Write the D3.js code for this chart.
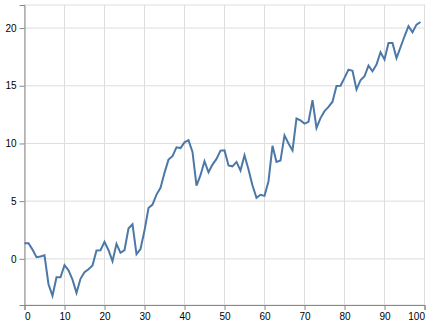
<!DOCTYPE html>
<html>
<head>
<meta charset="utf-8">
<script src="https://cdn.jsdelivr.net/npm/d3@7"></script>
<style>
  body { margin: 0; background: #fff; }
  #chart text { font-family: "Liberation Sans", Arial, sans-serif; font-size: 10px; fill: #000; }
</style>
</head>
<body>
<div id="chart"></div>
<script>
// series values, x = 0..99
const yValues = [
  1.35, 1.35, 0.8, 0.14, 0.2, 0.31, -2.2, -3.2, -1.6, -1.6,
  -0.55, -1.0, -1.8, -2.95, -1.73, -1.16, -0.9, -0.58, 0.72, 0.75,
  1.47, 0.75, -0.2, 1.3, 0.52, 0.75, 2.63, 3.0, 0.4, 0.85,
  2.45, 4.4, 4.7, 5.57, 6.15, 7.45, 8.6, 8.9, 9.67, 9.6,
  10.1, 10.28, 9.27, 6.35, 7.25, 8.46, 7.5, 8.17, 8.66, 9.38,
  9.4, 8.1, 8.02, 8.4, 7.65, 8.98, 7.74, 6.35, 5.29, 5.55,
  5.46, 6.73, 9.8, 8.4, 8.52, 10.7, 10.0, 9.4, 12.16, 12.0,
  11.72, 11.87, 13.75, 11.35, 12.2, 12.8, 13.17, 13.62, 14.98, 15.0,
  15.68, 16.4, 16.3, 14.67, 15.48, 15.82, 16.75, 16.26, 16.84, 17.9,
  17.27, 18.7, 18.7, 17.4, 18.34, 19.29, 20.16, 19.64, 20.3, 20.53
];
const xValues = yValues.map((_, i) => i);
const xTicks = [0, 10, 20, 30, 40, 50, 60, 70, 80, 90, 100];
const yTicks = [0, 5, 10, 15, 20];
const xDomain = [0, 100];
const yDomain = [-4, 22];

const width = 430, height = 327;
const margin = { top: 5, left: 24.5 };
const plotW = 400, plotH = 300;

const svg = d3.select("#chart")
  .append("svg")
  .attr("width", width)
  .attr("height", height);

const g = svg.append("g")
  .attr("transform", "translate(" + margin.left + "," + margin.top + ")");

const x = d3.scaleLinear().domain(xDomain).range([0, plotW]);
const y = d3.scaleLinear().domain(yDomain).range([plotH, 0]);

// view border
g.append("rect")
  .attr("x", 0).attr("y", 0)
  .attr("width", plotW).attr("height", plotH)
  .attr("fill", "none")
  .attr("stroke", "#ddd");

// grid
g.append("g")
  .selectAll("line")
  .data(xTicks)
  .join("line")
  .attr("x1", d => x(d)).attr("x2", d => x(d))
  .attr("y1", 0).attr("y2", plotH)
  .attr("stroke", "#ddd");

g.append("g")
  .selectAll("line")
  .data(yTicks)
  .join("line")
  .attr("x1", 0).attr("x2", plotW)
  .attr("y1", d => y(d)).attr("y2", d => y(d))
  .attr("stroke", "#ddd");

// axes
const xAxis = g.append("g")
  .attr("transform", "translate(0," + plotH + ")")
  .call(d3.axisBottom(x).tickValues(xTicks).tickSize(5).tickPadding(3).tickFormat(d3.format("d")));

const yAxis = g.append("g")
  .call(d3.axisLeft(y).tickValues(yTicks).tickSize(5).tickPadding(3).tickFormat(d3.format("d")));

[xAxis, yAxis].forEach(a => {
  a.attr("font-size", null).attr("font-family", null);
  a.select(".domain").attr("stroke", "#888");
  a.selectAll(".tick line").attr("stroke", "#888");
});

// flush first / last x labels to the plot edges
xAxis.selectAll(".tick text")
  .attr("text-anchor", d => d === xDomain[0] ? "start" : d === xDomain[1] ? "end" : "middle");

// line
const line = d3.line()
  .x((d, i) => x(xValues[i]))
  .y(d => y(d));

g.append("path")
  .datum(yValues)
  .attr("d", line)
  .attr("fill", "none")
  .attr("stroke", "#4c78a8")
  .attr("stroke-width", 2);
</script>
</body>
</html>
